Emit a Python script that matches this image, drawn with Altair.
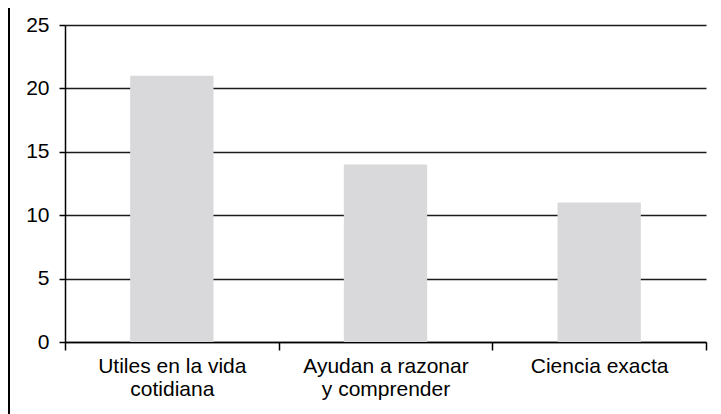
import altair as alt
import pandas as pd

categories = ["Utiles en la vida\ncotidiana", "Ayudan a razonar\ny comprender", "Ciencia exacta"]
values = [21, 14, 11]
y_ticks = [0, 5, 10, 15, 20, 25]

df = pd.DataFrame({"cat": categories, "val": values})

FONT = "Liberation Sans"

bars = alt.Chart(df).mark_bar(color="#d9d9db", width=alt.RelativeBandSize(0.39)).encode(
    x=alt.X("cat:N", sort=categories, scale=alt.Scale(paddingInner=0, paddingOuter=0),
            axis=alt.Axis(title=None, labelAngle=0, tickBand="extent", tickSize=8,
                          tickColor="#000", domainColor="#000", tickWidth=1.5, domainWidth=1.5,
                          labelFont=FONT, labelFontSize=21, labelColor="#000",
                          labelPadding=5, labelLineHeight=23,
                          labelExpr="split(datum.label, '\\n')")),
    y=alt.Y("val:Q", scale=alt.Scale(domain=[0, 25], nice=False),
            axis=alt.Axis(title=None, values=y_ticks, grid=True, gridColor="#1a1a1a",
                          gridWidth=1.6, tickSize=6, tickColor="#000", tickWidth=1.5,
                          domainColor="#000", domainWidth=1.5,
                          labelFont=FONT, labelFontSize=21, labelColor="#000",
                          labelPadding=10)),
)

border = alt.Chart(df).mark_rule(color="#000", strokeWidth=3).encode(
    x=alt.value(-56.5), y=alt.value(-17), y2=alt.value(420)
)

chart = alt.layer(bars, border).properties(
    width=641, height=317,
    autosize=alt.AutoSizeParams(type="none"),
    padding={"left": 57, "top": 17, "right": 7, "bottom": 72},
).configure_view(stroke=None).configure_axis(labelFont=FONT)

chart.save("out.html", embed_options={"renderer": "svg", "actions": False})
